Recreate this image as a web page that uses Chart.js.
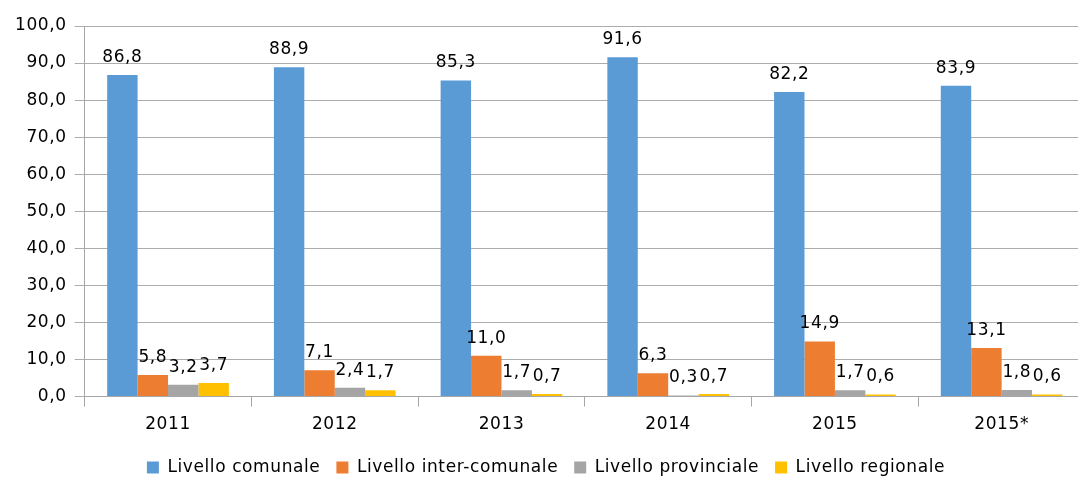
<!DOCTYPE html>
<html>
<head>
<meta charset="utf-8">
<script src="https://cdn.jsdelivr.net/npm/chart.js@4.4.1/dist/chart.umd.min.js"></script>
<style>
  html, body { margin: 0; padding: 0; background: #fff; overflow: hidden; }
  #wrap { width: 1090px; height: 486px; position: relative; }
</style>
</head>
<body>
<div id="wrap"><canvas id="chart"></canvas></div>
<script>
const years = ['2011', '2012', '2013', '2014', '2015', '2015*'];
const comunale = [86.8, 88.9, 85.3, 91.6, 82.2, 83.9];
const interComunale = [5.8, 7.1, 11.0, 6.3, 14.9, 13.1];
const provinciale = [3.2, 2.4, 1.7, 0.3, 1.7, 1.8];
const regionale = [3.7, 1.7, 0.7, 0.7, 0.6, 0.6];
const yTicks = [0, 10, 20, 30, 40, 50, 60, 70, 80, 90, 100];

const fmt = v => v.toFixed(1).replace('.', ',');
const FONT = 'DejaVu Sans';
const SPACING = '0.6px';

// a touch of letter spacing, like the original
const spacing = {
    id: 'spacing',
    beforeLayout(chart) { chart.ctx.letterSpacing = SPACING; },
    beforeDraw(chart) { chart.ctx.letterSpacing = SPACING; }
};

// simple value labels above each bar
const barLabels = {
    id: 'barLabels',
    afterDatasetsDraw(chart) {
        const ctx = chart.ctx;
        ctx.save();
        ctx.letterSpacing = SPACING;
        ctx.font = '17px "' + FONT + '"';
        ctx.fillStyle = '#000';
        ctx.textAlign = 'center';
        ctx.textBaseline = 'alphabetic';
        chart.data.datasets.forEach((ds, i) => {
            const meta = chart.getDatasetMeta(i);
            meta.data.forEach((bar, j) => {
                ctx.fillText(fmt(ds.data[j]), bar.x, bar.y - 13);
            });
        });
        ctx.restore();
    }
};

const ctx = document.getElementById('chart').getContext('2d');
new Chart(ctx, {
    type: 'bar',
    data: {
        labels: years,
        datasets: [
            { label: 'Livello comunale', data: comunale, backgroundColor: '#5B9BD5' },
            { label: 'Livello inter-comunale', data: interComunale, backgroundColor: '#ED7D31' },
            { label: 'Livello provinciale', data: provinciale, backgroundColor: '#A5A5A5' },
            { label: 'Livello regionale', data: regionale, backgroundColor: '#FFC000' }
        ]
    },
    options: {
        responsive: true,
        maintainAspectRatio: false,
        animation: false,
        layout: { padding: { left: 7, right: 5, top: 26, bottom: 0 } },
        datasets: { bar: { categoryPercentage: 0.73, barPercentage: 1.0 } },
        scales: {
            x: {
                grid: { drawOnChartArea: false, color: '#a6a6a6', tickLength: 10 },
                border: { color: '#a6a6a6' },
                ticks: { color: '#000', font: { family: FONT, size: 17 }, padding: 8 }
            },
            y: {
                min: 0,
                max: 100,
                afterBuildTicks: axis => { axis.ticks = yTicks.map(v => ({ value: v })); },
                grid: { color: '#acacac', tickLength: 10 },
                border: { color: '#a6a6a6' },
                ticks: { color: '#000', font: { family: FONT, size: 17 }, padding: 8, callback: v => fmt(v) }
            }
        },
        plugins: {
            legend: {
                position: 'bottom',
                labels: { color: '#000', font: { family: FONT, size: 17 }, boxWidth: 12, boxHeight: 12, padding: 16 }
            },
            tooltip: { enabled: false }
        }
    },
    plugins: [spacing, barLabels]
});
</script>
</body>
</html>
